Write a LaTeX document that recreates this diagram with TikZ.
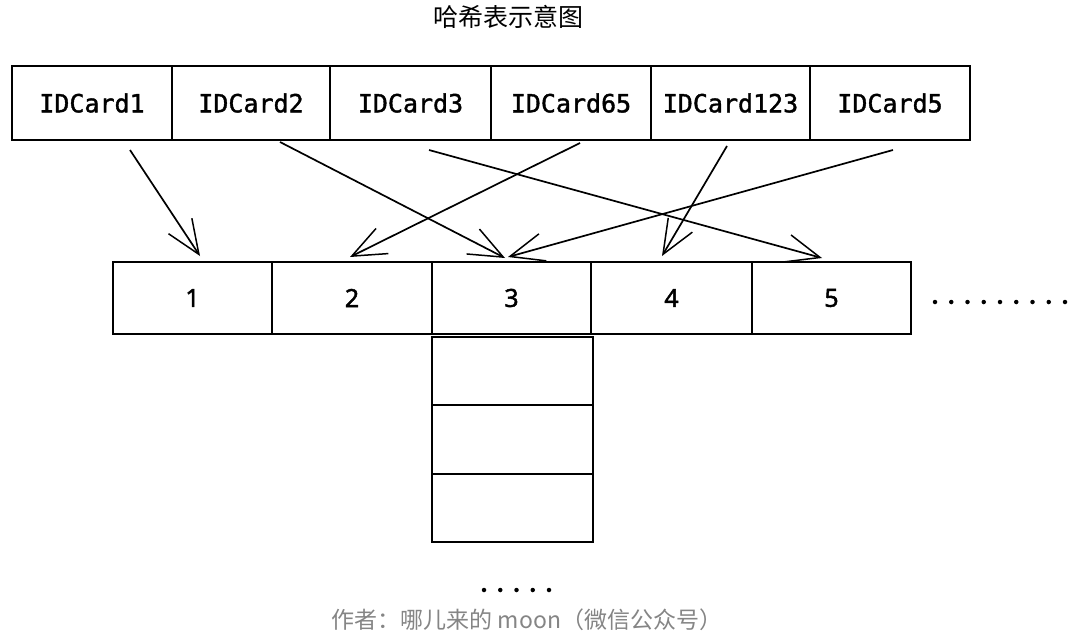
\documentclass[tikz,border=0pt]{standalone}
\usepackage{fontspec}
\newfontfamily\cjk{Noto Sans CJK SC}
\newfontfamily\monof[FakeBold=1.5]{DejaVu Sans Mono}
\newfontfamily\numf[FakeBold=1.8]{Noto Sans}
\usetikzlibrary{arrows.meta}
\definecolor{footgray}{HTML}{858585}
\begin{document}
\begin{tikzpicture}[x=1pt,y=-1pt,
  card/.style={draw, line width=1.8pt, minimum height=74pt, inner sep=0pt, font=\monof\fontsize{25}{30}\selectfont},
  slot/.style={draw, line width=1.8pt, minimum height=72pt, inner sep=0pt, font=\numf\fontsize{25}{30}\selectfont},
  chainbox/.style={draw, line width=1.8pt, minimum width=161pt, inner sep=0pt},
  arr/.style={line width=1.7pt, -{Straight Barb[length=34pt,width=28pt,line width=1.5pt]}},
  dotmark/.style={fill, circle, inner sep=0pt, minimum size=4.5pt}
]
\fill[white] (0,0) rectangle (1080,643);
\useasboundingbox (0,0) rectangle (1080,643);

% title
\node[font=\cjk\fontsize{25}{30}\selectfont] (title) at (508,17) {哈希表示意图};

% keys
\node[card, minimum width=160pt] (c1) at (92,103) {IDCard1};
\node[card, minimum width=158pt] (c2) at (251,103) {IDCard2};
\node[card, minimum width=161pt] (c3) at (410.5,103) {IDCard3};
\node[card, minimum width=160pt] (c4) at (571,103) {IDCard65};
\node[card, minimum width=159pt] (c5) at (730.5,103) {IDCard123};
\node[card, minimum width=160pt] (c6) at (890,103) {IDCard5};

% buckets
\node[slot, minimum width=159pt] (b1) at (192.5,298) {1};
\node[slot, minimum width=160pt] (b2) at (352,298) {2};
\node[slot, minimum width=159pt] (b3) at (511.5,298) {3};
\node[slot, minimum width=161pt] (b4) at (671.5,298) {4};
\node[slot, minimum width=159pt] (b5) at (831.5,298) {5};

% chain under bucket 3
\node[chainbox, minimum height=68pt] (k1) at (512.5,371) {};
\node[chainbox, minimum height=69pt] (k2) at (512.5,439.5) {};
\node[chainbox, minimum height=68pt] (k3) at (512.5,508) {};

% arrow endpoints
\coordinate (s1) at (130,150);  \coordinate (e1) at (200,256);
\coordinate (s2) at (280,142);  \coordinate (e2) at (505,258);
\coordinate (s3) at (429,150);  \coordinate (e3) at (822,258);
\coordinate (s4) at (580,143);  \coordinate (e4) at (350,257);
\coordinate (s5) at (727,146);  \coordinate (e5) at (662,256);
\coordinate (s6) at (893,150);  \coordinate (e6) at (508,257);

\draw[arr] (s1) -- (e1);
\draw[arr] (s2) -- (e2);
\draw[arr] (s3) -- (e3);
\draw[arr] (s4) -- (e4);
\draw[arr] (s5) -- (e5);
\draw[arr] (s6) -- (e6);

% ellipses
\foreach \i in {0,...,8} \node[dotmark] (hd\i) at (935+16.25*\i,302) {};
\foreach \i in {0,...,4} \node[dotmark] (vd\i) at (484+16.25*\i,590) {};

% footer
\node[font=\cjk\fontsize{23}{28}\selectfont, text=footgray] (foot) at (527,620) {作者：哪儿来的 moon（微信公众号）};
\end{tikzpicture}
\end{document}
